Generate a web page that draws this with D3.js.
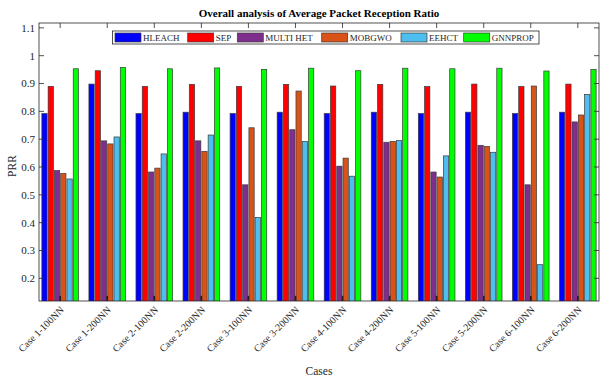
<!DOCTYPE html>
<html><head><meta charset="utf-8">
<script src="https://cdn.jsdelivr.net/npm/d3@7"></script>
<style>body{margin:0;background:#fff}svg{display:block}text{font-family:"Liberation Serif","Times New Roman",serif}</style>
</head><body><svg id="c" width="600" height="379"></svg>
<script>
const categories = ["Case 1-100NN","Case 1-200NN","Case 2-100NN","Case 2-200NN","Case 3-100NN","Case 3-200NN","Case 4-100NN","Case 4-200NN","Case 5-100NN","Case 5-200NN","Case 6-100NN","Case 6-200NN"];
const seriesNames = ["HLEACH","SEP","MULTI HET","MOBGWO","EEHCT","GNNPROP"];
const HLEACH  = [0.792,0.898,0.792,0.797,0.792,0.797,0.792,0.797,0.792,0.797,0.792,0.797];
const SEP     = [0.890,0.946,0.890,0.897,0.890,0.897,0.891,0.897,0.889,0.898,0.889,0.898];
const MULTIHET= [0.587,0.694,0.582,0.694,0.536,0.734,0.603,0.689,0.582,0.678,0.536,0.762];
const MOBGWO  = [0.577,0.683,0.596,0.656,0.741,0.873,0.632,0.692,0.564,0.674,0.891,0.787];
const EEHCT   = [0.557,0.708,0.647,0.715,0.419,0.692,0.567,0.695,0.640,0.653,0.249,0.861];
const GNNPROP = [0.953,0.958,0.953,0.956,0.951,0.955,0.946,0.955,0.953,0.955,0.945,0.951];
const series = [HLEACH,SEP,MULTIHET,MOBGWO,EEHCT,GNNPROP];
const colors = ["#0000ff","#ff0000","#7e2f8e","#d95319","#4dbeee","#00ff00"];
const yTicks = [0.2,0.3,0.4,0.5,0.6,0.7,0.8,0.9,1,1.1];
const yTickLabels = ["0.2","0.3","0.4","0.5","0.6","0.7","0.8","0.9","1","1.1"];

const svg = d3.select("#c");
const L=39, R=599, T=23, B=301;
const axisColor="#262626";
const x = d3.scaleLinear().domain([0.55,12.45]).range([L,R]);
const y = d3.scaleLinear().domain([0.1185,1.1175]).range([B,T]);
const nS = series.length;
const pitch = (x(1.8)-x(1))/nS;
const bw = pitch*0.84;

svg.append("clipPath").attr("id","pc").append("rect").attr("x",L).attr("y",T).attr("width",R-L).attr("height",B-T);
const g = svg.append("g").attr("clip-path","url(#pc)");
series.forEach((s,j)=>{
  g.selectAll(null).data(s).enter().append("rect")
   .attr("x",(d,i)=>x(i+1)+(j-(nS-1)/2)*pitch-bw/2)
   .attr("y",d=>y(d))
   .attr("width",bw)
   .attr("height",d=>B-y(d)+2)
   .attr("fill",colors[j]).attr("stroke","#3a3a3a").attr("stroke-width",0.7);
});
// small dark marks at group centres near baseline
g.selectAll(null).data(categories).enter().append("rect")
  .attr("x",(d,i)=>x(i+1)-0.8).attr("y",y(0.137)).attr("width",1.6).attr("height",B-y(0.137))
  .attr("fill","#1a1a1a");

// axes box
const ax = svg.append("g").attr("stroke",axisColor).attr("fill","none").attr("stroke-width",0.8);
ax.append("rect").attr("x",L).attr("y",T).attr("width",R-L).attr("height",B-T);
yTicks.forEach(t=>{
  ax.append("line").attr("x1",L).attr("x2",L+5).attr("y1",y(t)).attr("y2",y(t));
  ax.append("line").attr("x1",R).attr("x2",R-5).attr("y1",y(t)).attr("y2",y(t));
});
categories.forEach((c,i)=>{
  ax.append("line").attr("x1",x(i+1)).attr("x2",x(i+1)).attr("y1",T).attr("y2",T+5);
  ax.append("line").attr("x1",x(i+1)).attr("x2",x(i+1)).attr("y1",B).attr("y2",B-5);
});
// y tick labels
svg.selectAll(null).data(yTicks).enter().append("text")
  .attr("x",L-4).attr("y",d=>y(d)).attr("dy","0.35em").attr("text-anchor","end")
  .attr("font-size",11).attr("fill",axisColor).text((d,i)=>yTickLabels[i]);
// x tick labels
svg.selectAll(null).data(categories).enter().append("text")
  .attr("transform",(d,i)=>`translate(${x(i+1)+2},${B+7}) rotate(-45)`)
  .attr("text-anchor","end").attr("dy","0.35em")
  .attr("font-size",10).attr("fill",axisColor).text(d=>d);
// axis labels
svg.append("text").attr("transform",`translate(16,166) rotate(-90)`).attr("text-anchor","middle")
  .attr("font-size",11.5).attr("fill",axisColor).text("PRR");
svg.append("text").attr("x",(L+R)/2).attr("y",375).attr("text-anchor","middle")
  .attr("font-size",11.5).attr("fill",axisColor).text("Cases");
svg.append("text").attr("x",(L+R)/2).attr("y",17).attr("text-anchor","middle")
  .attr("font-size",11).attr("font-weight","bold").attr("fill","#000").text("Overall analysis of Average Packet Reception Ratio");

// legend (layout positions)
const legendX = [115,187.7,237.3,321.7,401,463.7];
const lg = svg.append("g");
lg.append("rect").attr("x",112.5).attr("y",31).attr("width",539-112.5).attr("height",13).attr("fill","#fff").attr("stroke",axisColor).attr("stroke-width",0.8);
seriesNames.forEach((n,j)=>{
  const lx = legendX[j];
  lg.append("rect").attr("x",lx).attr("y",33).attr("width",26).attr("height",9).attr("fill",colors[j]).attr("stroke","#3a3a3a").attr("stroke-width",0.7);
  const t = lg.append("text").attr("x",lx+28).attr("y",41.3).attr("font-size",9).attr("fill",axisColor).text(n);
  const maxW = (j<nS-1 ? legendX[j+1] : 539) - (lx+28) - 3;
  if (t.node().getComputedTextLength() > maxW) t.attr("textLength",maxW).attr("lengthAdjust","spacingAndGlyphs");
});
</script></body></html>
